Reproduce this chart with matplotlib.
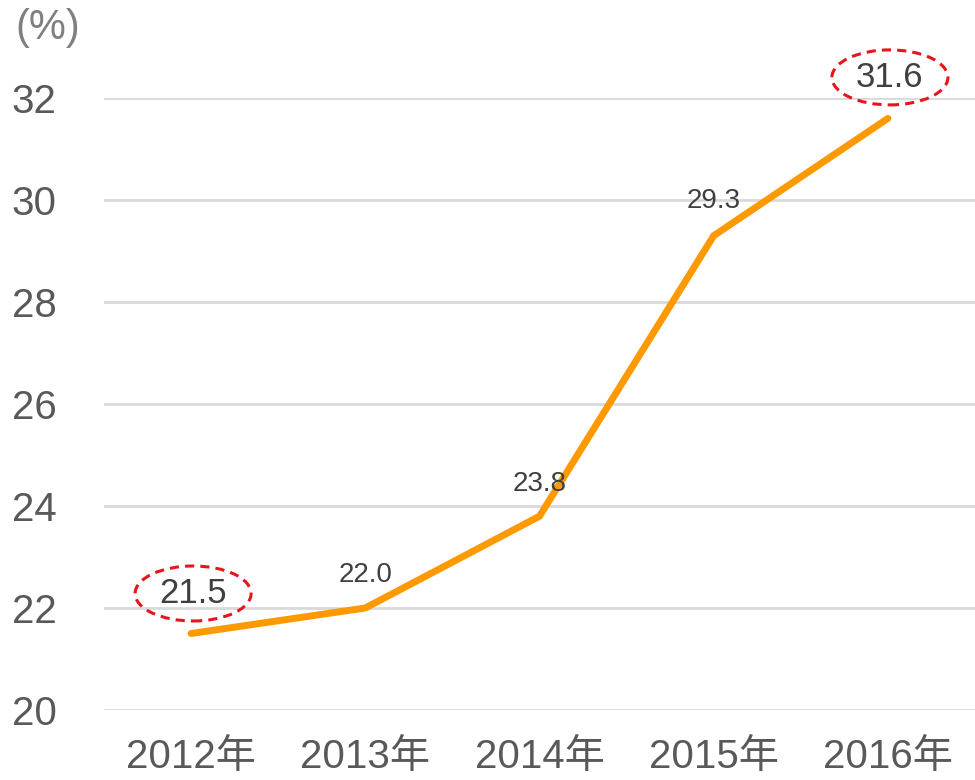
import matplotlib
matplotlib.use("Agg")
import matplotlib.pyplot as plt
from matplotlib.patches import Ellipse
from matplotlib.transforms import ScaledTranslation

plt.rcParams['font.family'] = ['Liberation Sans', 'Noto Sans CJK JP', 'DejaVu Sans']

years = ["2012年", "2013年", "2014年", "2015年", "2016年"]
values = [21.5, 22.0, 23.8, 29.3, 31.6]
yticks = [20, 22, 24, 26, 28, 30, 32]
highlight = [0, 4]

W, H = 975, 780
dpi = 100
fig = plt.figure(figsize=(W / dpi, H / dpi), dpi=dpi)
left, right, top_px, bot_px = 104, 975, 98, 710
ax = fig.add_axes([left / W, 1 - bot_px / H, (right - left) / W, (bot_px - top_px) / H])

x = list(range(len(years)))
ax.plot(x, values, color="#FF9900", linewidth=5, solid_capstyle="round", solid_joinstyle="miter", zorder=3, clip_on=False)

ax.set_xlim(-0.5, len(years) - 0.5)
ax.set_ylim(20, 32)
ax.set_yticks(yticks)
ax.set_yticklabels([str(v) for v in yticks])
ax.set_xticks(x)
ax.set_xticklabels(years)
ax.grid(axis="y", color="#D9D9D9", linewidth=2)
ax.set_axisbelow(True)
for s in ax.spines.values():
    s.set_visible(False)
ax.tick_params(axis="y", length=0, pad=34, labelsize=29, labelcolor="#595959")
ax.tick_params(axis="x", length=0, pad=20, labelsize=29, labelcolor="#595959")

px = 72 / dpi  # points per pixel
offsets = {0: (2, 40), 1: (0, 33), 2: (0, 32), 3: (0, 35), 4: (2, 41)}
for i, v in enumerate(values):
    dx, dy = offsets[i]
    big = i in highlight
    ax.annotate(f"{v:.1f}", (i, v), xytext=(dx * px, dy * px), textcoords="offset points",
                ha="center", va="center", fontsize=25 if big else 20, color="#404040", zorder=5)
    if big:
        trans = fig.dpi_scale_trans + ScaledTranslation(i, v, ax.transData)
        e = Ellipse((dx / dpi, dy / dpi), 116 / dpi, 55 / dpi, transform=trans, fill=False,
                    edgecolor="#E8141B", linewidth=2.2, linestyle=(0, (3, 2)), clip_on=False, zorder=6)
        fig.add_artist(e)

fig.text(48 / W, 1 - 28 / H, "(%)", ha="center", va="center", fontsize=30, color="#7F7F7F")

fig.savefig("out.png", dpi=dpi)
